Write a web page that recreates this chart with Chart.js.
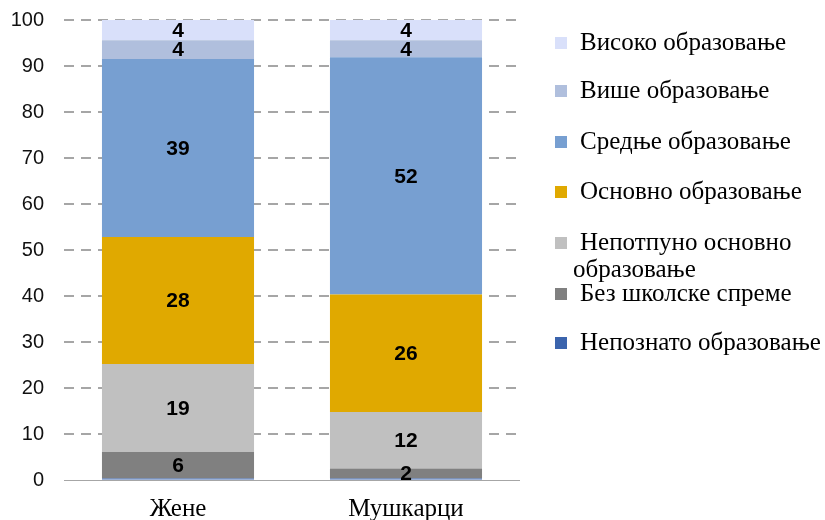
<!DOCTYPE html>
<html>
<head>
<meta charset="utf-8">
<script src="https://cdn.jsdelivr.net/npm/chart.js@4/dist/chart.umd.min.js"></script>
<style>
html,body{margin:0;padding:0;background:#fff;}
#wrap{width:825px;height:520px;position:relative;}
</style>
</head>
<body>
<div id="wrap"><canvas id="c" width="825" height="520"></canvas></div>
<script>
// ---- data ----
const categories = ['Жене', 'Мушкарци'];
const seriesNames = [
  'Непознато образовање',
  'Без школске спреме',
  'Непотпуно основно образовање',
  'Основно образовање',
  'Средње образовање',
  'Више образовање',
  'Високо образовање'
];
const nepoznato = [0.3, 0.3];
const bezSkolske = [5.8, 2.2];
const nepotpunoOsnovno = [19.1, 12.3];
const osnovno = [27.6, 25.5];
const srednje = [38.7, 51.6];
const vise = [4.1, 3.7];
const visoko = [4.4, 4.4];
const yTicks = [0, 10, 20, 30, 40, 50, 60, 70, 80, 90, 100];

const seriesValues = [nepoznato, bezSkolske, nepotpunoOsnovno, osnovno, srednje, vise, visoko];
const seriesColors = ['#3b64ad', '#808080', '#c0c0c0', '#e0a900', '#779fd1', '#b0bfdd', '#d9e0fa'];

const datasets = seriesNames.map((n, i) => ({
  label: n,
  data: seriesValues[i],
  backgroundColor: seriesColors[i],
  borderWidth: 0,
  categoryPercentage: 1.0,
  barPercentage: 0.667
}));

// value labels
const valueLabels = {
  id: 'valueLabels',
  afterDatasetsDraw(chart) {
    const ctx = chart.ctx;
    ctx.save();
    ctx.font = 'bold 21px "Liberation Sans", Arial, sans-serif';
    ctx.fillStyle = '#000';
    ctx.textAlign = 'center';
    ctx.textBaseline = 'middle';
    chart.data.datasets.forEach((ds, di) => {
      const meta = chart.getDatasetMeta(di);
      meta.data.forEach((el, i) => {
        const v = Math.round(ds.data[i]);
        if (v < 1) return;
        ctx.fillText(String(v), el.x, (el.y + el.base) / 2 + 1);
      });
    });
    ctx.restore();
  }
};

// legend (reversed order, right side)
const customLegend = {
  id: 'customLegend',
  afterDraw(chart, args, opts) {
    const ctx = chart.ctx;
    ctx.save();
    ctx.font = opts.font;
    ctx.textBaseline = 'middle';
    ctx.textAlign = 'left';
    const items = chart.data.datasets.slice().reverse();
    items.forEach((ds, k) => {
      const y = opts.rows[k];
      ctx.fillStyle = ds.backgroundColor;
      ctx.fillRect(opts.boxX, y - opts.box / 2, opts.box, opts.box);
      ctx.fillStyle = '#000';
      const words = ds.label === 'Непотпуно основно образовање'
        ? ['Непотпуно основно', 'образовање'] : [ds.label];
      ctx.fillText(words[0], opts.textX, y);
      if (words.length > 1) ctx.fillText(words[1], opts.textX2, y + opts.wrapGap);
    });
    ctx.restore();
  }
};

new Chart(document.getElementById('c'), {
  type: 'bar',
  data: { labels: categories, datasets },
  options: {
    responsive: false,
    animation: false,
    layout: { padding: { top: 20, right: 305, bottom: 0, left: 0 } },
    plugins: {
      legend: { display: false },
      tooltip: { enabled: false },
      customLegend: {
        font: '25px "Liberation Serif", "Times New Roman", serif',
        rows: [43, 91, 142, 192, 243, 294, 343],
        boxX: 555, box: 12, textX: 580, textX2: 573, wrapGap: 27
      }
    },
    scales: {
      x: {
        stacked: true,
        afterFit(s) { s.height = 40; },
        grid: { display: false, drawTicks: false },
        border: { display: false },
        ticks: {
          color: '#000',
          padding: 14,
          font: { family: '"Liberation Serif", "Times New Roman", serif', size: 25 }
        }
      },
      y: {
        stacked: true,
        min: 0, max: 100,
        afterFit(s) { s.width = 64; },
        afterBuildTicks(s) { s.ticks = yTicks.map(v => ({ value: v })); },
        grid: {
          drawTicks: true,
          tickLength: 20,
          tickColor: 'rgba(0,0,0,0)',
          color: '#a6a6a6',
          lineWidth: c => (c.tick && c.tick.value === 0) ? 1 : 2
        },
        border: {
          display: false,
          dash: c => (c.tick && c.tick.value === 0) ? [] : [10, 7]
        },
        ticks: {
          color: '#111',
          padding: 0,
          font: { family: '"Liberation Sans", Arial, sans-serif', size: 20 }
        }
      }
    }
  },
  plugins: [valueLabels, customLegend]
});
</script>
</body>
</html>
